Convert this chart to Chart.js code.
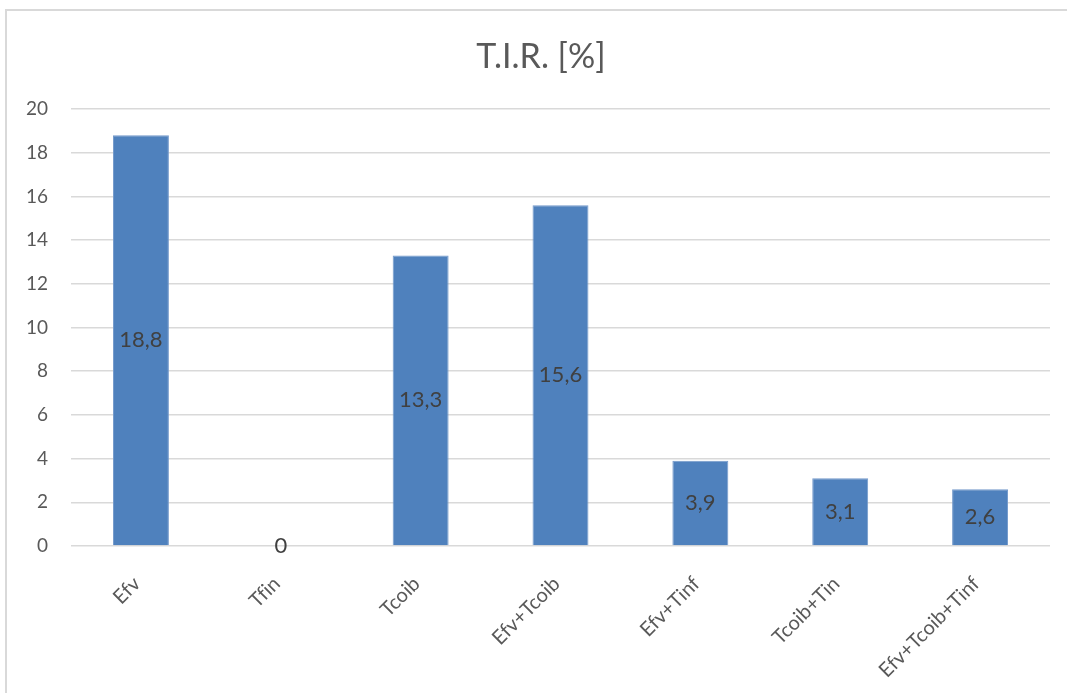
<!DOCTYPE html>
<html>
<head>
<meta charset="utf-8">
<script src="https://cdn.jsdelivr.net/npm/chart.js@4/dist/chart.umd.min.js"></script>
<style>
  html, body { margin: 0; padding: 0; background: #fff; overflow: hidden; }
  #frame { position: absolute; left: 5px; top: 9px; width: 1100px; height: 720px; border: 2px solid #d9d9d9; box-sizing: border-box; }
  #wrap { position: absolute; left: 0; top: 0; width: 1067px; height: 693px; }
  canvas { font-variant-ligatures: none; }
</style>
</head>
<body>
<div id="frame"></div>
<div id="wrap"><canvas id="c" width="1067" height="693"></canvas></div>
<script>
const categories = ["Efv", "Tfin", "Tcoib", "Efv+Tcoib", "Efv+Tinf", "Tcoib+Tin", "Efv+Tcoib+Tinf"];
const tirValues = [18.8, 0, 13.3, 15.6, 3.9, 3.1, 2.6];
const yTicks = [0, 2, 4, 6, 8, 10, 12, 14, 16, 18, 20];
const chartTitle = "T.I.R. [%]";

const FONT = "Lato, 'Open Sans', sans-serif";
const TEXT = "#595959";

const labelPlugin = {
  id: "barLabels",
  afterLayout(chart) {
    // centre the title over the visible frame (Excel-style)
    if (chart.titleBlock) { chart.titleBlock.left += 32; }
  },
  beforeDraw(chart) {
    try { chart.ctx.textRendering = "optimizeSpeed"; } catch (e) {}
  },
  afterDatasetsDraw(chart) {
    const ctx = chart.ctx;
    const meta = chart.getDatasetMeta(0);
    ctx.save();
    ctx.font = "22px " + FONT;
    ctx.fillStyle = "#404040";
    ctx.textAlign = "center";
    ctx.textBaseline = "middle";
    meta.data.forEach((bar, i) => {
      const v = tirValues[i];
      const yc = (bar.y + bar.base) / 2;
      ctx.fillText(String(v).replace(".", ","), bar.x, yc);
    });
    ctx.restore();
  }
};

new Chart(document.getElementById("c"), {
  type: "bar",
  data: {
    labels: categories,
    datasets: [{
      data: tirValues,
      backgroundColor: "#4f81bd",
      borderColor: "#7399cb",
      borderWidth: 1,
      categoryPercentage: 1,
      barPercentage: 0.4
    }]
  },
  options: {
    responsive: false,
    animation: false,
    layout: { padding: { top: 0, right: 17, bottom: 0, left: 0 } },
    plugins: {
      legend: { display: false },
      tooltip: { enabled: false },
      title: {
        display: true,
        text: chartTitle,
        color: TEXT,
        font: { family: FONT, size: 34, weight: "normal" },
        padding: { top: 37, bottom: 31.2 }
      }
    },
    scales: {
      x: {
        grid: { display: false, drawTicks: false },
        border: { display: false },
        ticks: {
          color: TEXT,
          font: { family: FONT, size: 20 },
          minRotation: 45,
          maxRotation: 45,
          autoSkip: false,
          padding: 26,
          labelOffset: -4
        },
        afterFit(scale) { scale.height = 693 - 546; }
      },
      y: {
        min: 0,
        max: 20,
        afterBuildTicks(scale) { scale.ticks = yTicks.map(v => ({ value: v })); },
        grid: { color: "#d9d9d9", lineWidth: 1.5, drawTicks: false },
        border: { display: false },
        ticks: {
          color: TEXT,
          font: { family: FONT, size: 19 },
          padding: 23
        },
        afterFit(scale) { scale.width = 71; }
      }
    }
  },
  plugins: [labelPlugin]
});
</script>
</body>
</html>
